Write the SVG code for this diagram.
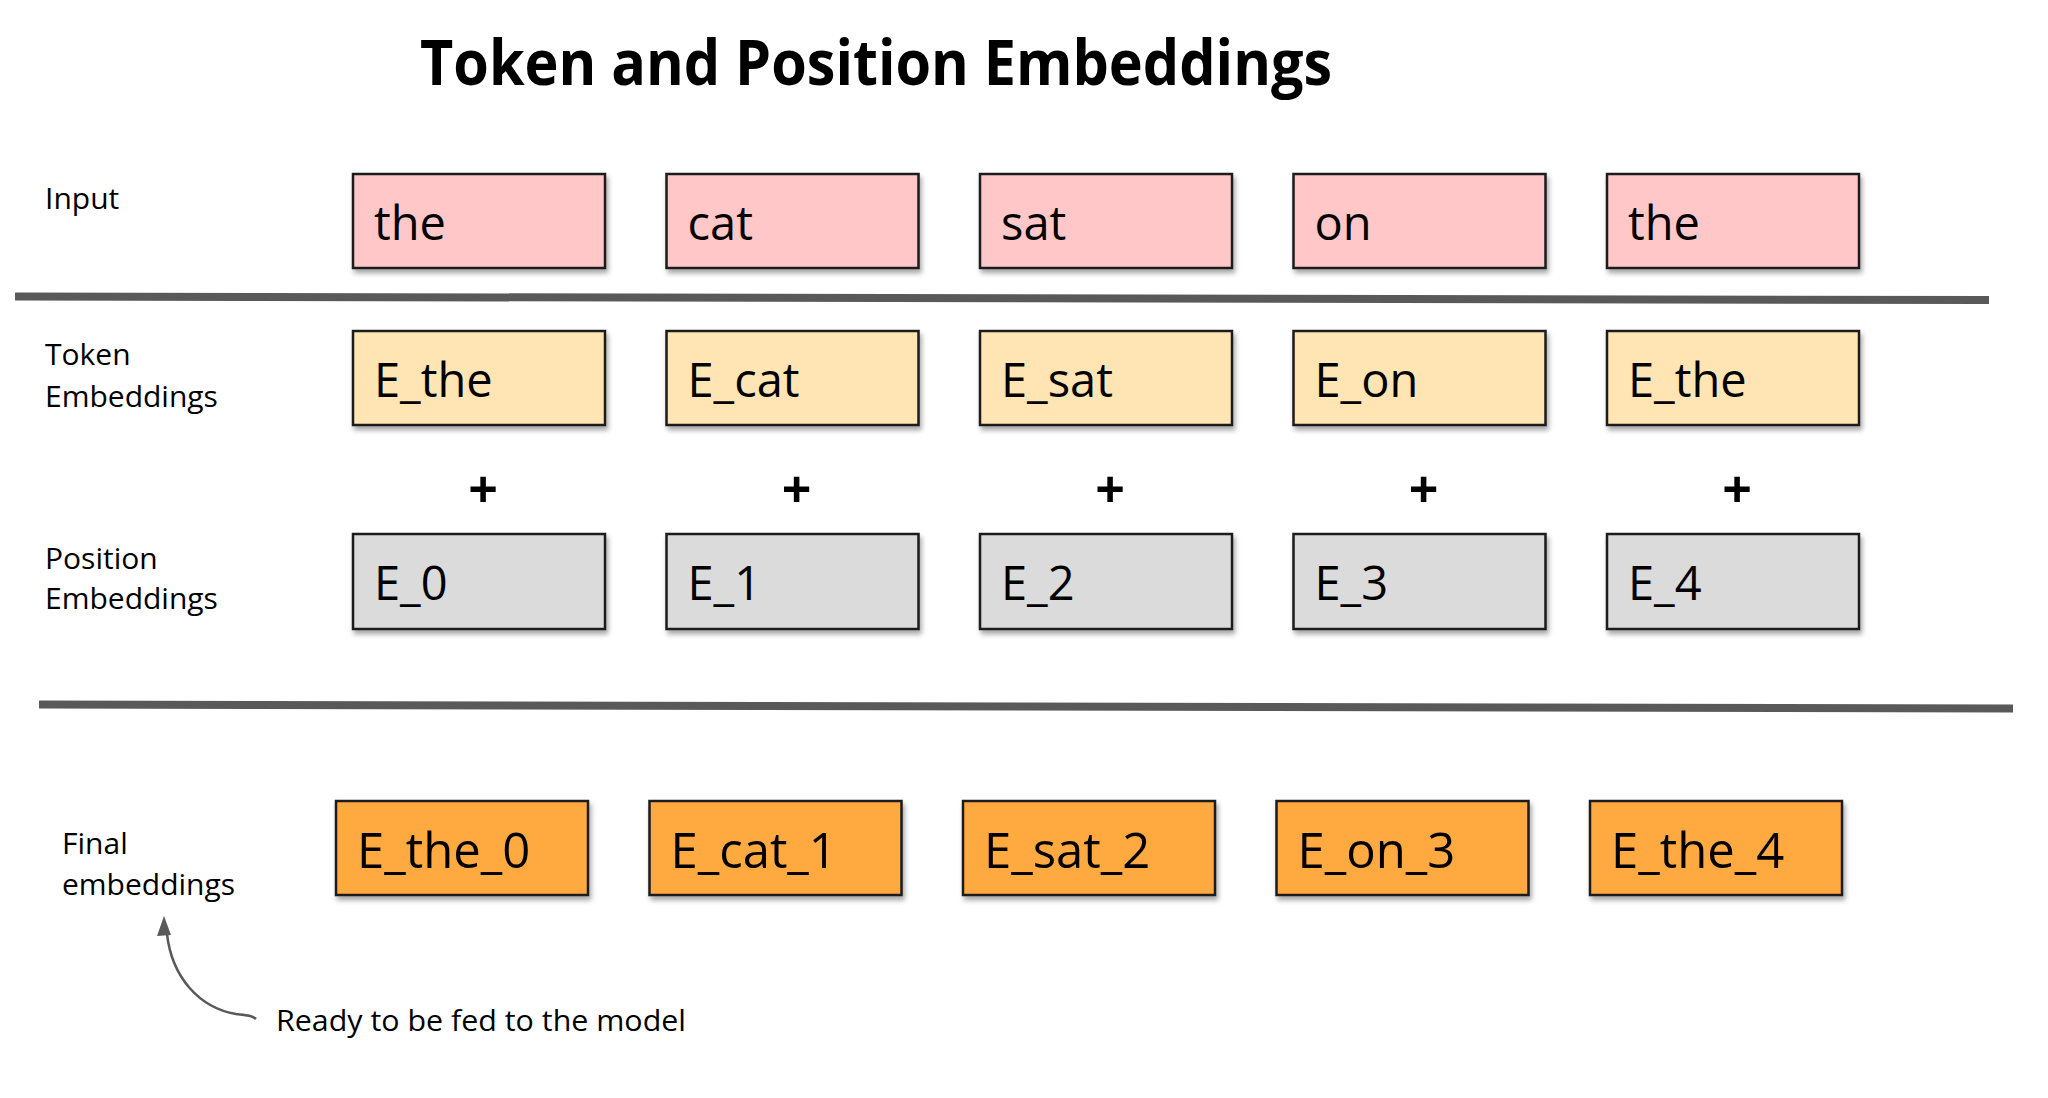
<svg xmlns="http://www.w3.org/2000/svg" width="2048" height="1098" viewBox="0 0 2048 1098">
<defs>
<style>
.title{font-family:"Open Sans","Liberation Sans",sans-serif;font-weight:bold;font-size:62px;fill:#000}
.lbl{font-family:"Open Sans","Liberation Sans",sans-serif;font-size:30px;fill:#000}
.bt{font-family:"Open Sans","Liberation Sans",sans-serif;font-size:47px;fill:#000}
.bf{font-family:"Open Sans","Liberation Sans",sans-serif;font-size:49px;fill:#000}
.plus{font-family:"Open Sans","Liberation Sans",sans-serif;font-weight:bold;font-size:52px;fill:#000}
.box{stroke:#1a1a1a;stroke-width:2.5;filter:url(#sh)}
.in{fill:#FFC7C7}
.tok{fill:#FFE5B3}
.pos{fill:#DBDBDB}
.fin{fill:#FFAA40}
.sep{stroke:#595959;stroke-width:8;fill:none}
</style>
<filter id="sh" x="-10%" y="-20%" width="130%" height="150%">
<feDropShadow dx="2" dy="4" stdDeviation="2.5" flood-color="#000" flood-opacity="0.35"/>
</filter>
</defs>
<rect width="2048" height="1098" fill="#fff"/>
<text class="title" x="420" y="85" textLength="912" lengthAdjust="spacingAndGlyphs">Token and Position Embeddings</text>

<g id="labels">
<text class="lbl" x="45" y="209">Input</text>
<text class="lbl" x="45" y="365">Token</text>
<text class="lbl" x="45" y="407">Embeddings</text>
<text class="lbl" x="45" y="569">Position</text>
<text class="lbl" x="45" y="609">Embeddings</text>
<text class="lbl" x="62" y="854">Final</text>
<text class="lbl" x="62" y="895">embeddings</text>
<text class="lbl" x="276" y="1031" textLength="410" lengthAdjust="spacingAndGlyphs">Ready to be fed to the model</text>
</g>

<g id="connectors">
<line class="sep" x1="15" y1="296.5" x2="1989" y2="300"/>
<line class="sep" x1="39" y1="704.5" x2="2013" y2="708.5"/>
<path d="M256 1019 C252 1015 245 1015 236 1014 C200 1008 172 978 167 934" fill="none" stroke="#595959" stroke-width="2.5"/>
<polygon points="164,916 157,936 171,935" fill="#595959"/>
</g>

<g id="input-row">
<g id="in-0"><rect class="box in" x="353" y="174" width="252" height="94"/><text class="bt" x="374" y="240">the</text></g>
<g id="in-1"><rect class="box in" x="666.5" y="174" width="252" height="94"/><text class="bt" x="687.5" y="240">cat</text></g>
<g id="in-2"><rect class="box in" x="980" y="174" width="252" height="94"/><text class="bt" x="1001" y="240">sat</text></g>
<g id="in-3"><rect class="box in" x="1293.5" y="174" width="252" height="94"/><text class="bt" x="1314.5" y="240">on</text></g>
<g id="in-4"><rect class="box in" x="1607" y="174" width="252" height="94"/><text class="bt" x="1628" y="240">the</text></g>
</g>

<g id="token-row">
<g id="tok-0"><rect class="box tok" x="353" y="331" width="252" height="94"/><text class="bt" x="374" y="397">E_the</text></g>
<g id="tok-1"><rect class="box tok" x="666.5" y="331" width="252" height="94"/><text class="bt" x="687.5" y="397">E_cat</text></g>
<g id="tok-2"><rect class="box tok" x="980" y="331" width="252" height="94"/><text class="bt" x="1001" y="397">E_sat</text></g>
<g id="tok-3"><rect class="box tok" x="1293.5" y="331" width="252" height="94"/><text class="bt" x="1314.5" y="397">E_on</text></g>
<g id="tok-4"><rect class="box tok" x="1607" y="331" width="252" height="94"/><text class="bt" x="1628" y="397">E_the</text></g>
</g>

<g id="plus-signs">
<text class="plus" x="483" y="508" text-anchor="middle">+</text>
<text class="plus" x="796.5" y="508" text-anchor="middle">+</text>
<text class="plus" x="1110" y="508" text-anchor="middle">+</text>
<text class="plus" x="1423.5" y="508" text-anchor="middle">+</text>
<text class="plus" x="1737" y="508" text-anchor="middle">+</text>
</g>

<g id="position-row">
<g id="pos-0"><rect class="box pos" x="353" y="534" width="252" height="95"/><text class="bt" x="374" y="600">E_0</text></g>
<g id="pos-1"><rect class="box pos" x="666.5" y="534" width="252" height="95"/><text class="bt" x="687.5" y="600">E_1</text></g>
<g id="pos-2"><rect class="box pos" x="980" y="534" width="252" height="95"/><text class="bt" x="1001" y="600">E_2</text></g>
<g id="pos-3"><rect class="box pos" x="1293.5" y="534" width="252" height="95"/><text class="bt" x="1314.5" y="600">E_3</text></g>
<g id="pos-4"><rect class="box pos" x="1607" y="534" width="252" height="95"/><text class="bt" x="1628" y="600">E_4</text></g>
</g>

<g id="final-row">
<g id="fin-0"><rect class="box fin" x="336" y="801" width="252" height="94"/><text class="bf" x="357" y="868">E_the_0</text></g>
<g id="fin-1"><rect class="box fin" x="649.5" y="801" width="252" height="94"/><text class="bf" x="670.5" y="868">E_cat_1</text></g>
<g id="fin-2"><rect class="box fin" x="963" y="801" width="252" height="94"/><text class="bf" x="984" y="868">E_sat_2</text></g>
<g id="fin-3"><rect class="box fin" x="1276.5" y="801" width="252" height="94"/><text class="bf" x="1297.5" y="868">E_on_3</text></g>
<g id="fin-4"><rect class="box fin" x="1590" y="801" width="252" height="94"/><text class="bf" x="1611" y="868">E_the_4</text></g>
</g>
</svg>
